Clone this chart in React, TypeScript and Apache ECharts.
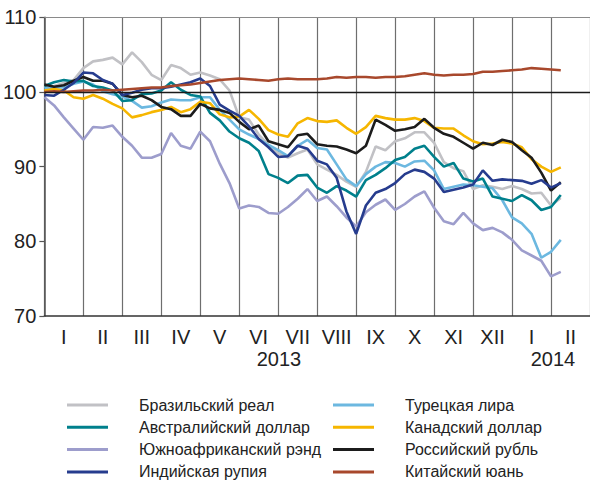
import React, { useEffect, useRef } from "react";
import * as echarts from "echarts";

const FONT = "'Liberation Sans Narrow', 'Liberation Sans', Arial, sans-serif";

// Month labels (Jan 2013 .. Feb 2014)
const monthLabels = ["I", "II", "III", "IV", "V", "VI", "VII", "VIII", "IX", "X", "XI", "XII", "I", "II"];
const yearLabels = ["2013", "2014"];

// Weekly readings (step = quarter month, starting 1 Jan 2013)
const STEP = 0.25;

const brazilReal = [100.7,100.8,101.2,101.6,103.2,104.1,104.3,104.6,103.7,105.3,104.0,102.3,101.6,103.6,103.2,102.3,102.6,102.2,101.7,100.2,96.6,96.3,94.3,92.9,91.8,91.2,91.8,92.3,90.3,89.6,88.9,88.0,87.3,89.3,92.7,92.2,93.4,93.8,94.6,94.6,93.2,90.6,89.8,89.4,87.0,87.5,87.3,87.0,87.4,87.0,86.4,86.5,84.8,85.8];
const audDollar = [100.8,101.3,101.6,101.4,101.5,100.8,100.6,100.2,98.8,98.9,99.7,99.8,100.2,101.3,100.3,99.6,99.4,97.2,96.2,94.7,93.8,93.2,92.1,89.0,88.5,87.8,88.8,88.9,87.2,86.5,87.4,86.8,86.0,88.2,88.9,89.8,90.9,91.3,92.4,92.8,91.3,90.0,90.5,88.4,88.0,88.4,86.0,85.7,85.4,86.2,85.5,84.2,84.6,86.2];
const zarRand = [99.3,98.2,96.6,95.1,93.6,95.3,95.2,95.5,94.0,92.8,91.2,91.2,91.7,94.5,92.8,92.4,94.7,93.4,90.4,87.8,84.4,84.8,84.6,83.8,83.7,84.6,85.7,87.0,85.4,86.0,84.7,83.2,82.0,83.9,84.9,85.6,84.2,85.0,86.0,86.7,84.5,82.7,82.3,83.8,82.4,81.5,81.8,81.2,80.2,78.8,78.1,77.4,75.3,75.9];
const inrRupee = [99.6,99.5,100.3,101.2,102.6,102.5,101.6,101.1,99.6,99.9,100.3,100.5,100.5,100.7,101.0,101.3,101.8,100.8,98.3,97.5,96.8,95.4,93.7,92.6,91.3,91.4,92.8,92.4,90.8,90.3,88.5,84.0,81.0,84.8,86.5,87.0,87.8,89.0,89.6,89.3,88.4,86.6,86.9,87.2,87.6,89.5,88.1,88.3,88.2,88.1,87.7,88.2,87.2,87.8];
const tryLira = [100.5,100.6,100.6,101.1,101.4,101.0,100.1,99.7,99.4,98.8,97.9,98.1,98.6,99.0,98.9,98.9,99.3,99.3,97.6,96.3,95.0,94.3,93.7,92.9,92.2,91.4,92.8,93.6,92.5,92.3,90.3,88.3,87.4,89.0,90.0,90.6,90.5,90.0,90.7,90.8,89.5,87.0,87.3,87.6,87.5,87.3,87.1,85.5,83.2,82.4,81.0,77.8,78.6,80.2];
const cadDollar = [100.2,100.4,100.2,99.3,99.1,99.6,99.1,98.4,97.8,96.6,96.9,97.3,97.6,98.0,97.3,97.7,98.7,98.5,97.0,96.6,96.7,97.6,96.4,94.9,94.3,94.0,95.8,96.5,96.1,96.0,96.2,95.2,94.4,95.3,96.8,96.5,96.3,96.3,96.5,96.1,95.2,95.1,95.1,94.2,93.4,93.0,93.1,93.3,93.1,92.6,91.0,90.0,89.3,89.9];
const rubRuble = [101.0,100.7,100.9,101.5,102.0,101.5,101.5,101.1,99.6,99.3,99.5,98.9,98.0,97.7,96.8,96.8,98.4,97.8,97.6,97.2,96.0,95.0,95.5,93.4,93.0,92.6,94.2,94.4,93.0,92.8,92.7,92.3,91.8,92.8,96.3,95.6,94.8,95.0,95.3,96.4,95.2,94.4,94.0,93.2,92.4,93.2,92.9,93.6,93.3,92.2,91.2,89.2,86.8,87.9];
const cnyYuan = [100.0,100.1,100.0,100.1,100.2,100.2,100.3,100.2,100.3,100.4,100.5,100.6,100.6,100.8,100.9,101.0,101.2,101.4,101.6,101.7,101.8,101.7,101.6,101.5,101.7,101.8,101.7,101.7,101.7,101.8,102.0,101.9,102.0,102.0,101.9,102.0,102.0,102.1,102.3,102.5,102.3,102.2,102.3,102.3,102.4,102.7,102.7,102.8,102.9,103.0,103.2,103.1,103.0,102.9];

const seriesDefs = [
  { name: "Бразильский реал", data: brazilReal, color: "#c1c1c5" },
  { name: "Австралийский доллар", data: audDollar, color: "#00808c" },
  { name: "Южноафриканский рэнд", data: zarRand, color: "#9d9dcc" },
  { name: "Индийская рупия", data: inrRupee, color: "#263c8e" },
  { name: "Турецкая лира", data: tryLira, color: "#6cb8e0" },
  { name: "Канадский доллар", data: cadDollar, color: "#f6b600" },
  { name: "Российский рубль", data: rubRuble, color: "#1c1c1c" },
  { name: "Китайский юань", data: cnyYuan, color: "#a8482c" },
];

const drawOrder = [2, 0, 4, 1, 5, 6, 3, 7];

export default function App() {
  const ref = useRef<HTMLDivElement>(null);
  useEffect(() => {
    if (!ref.current) return;
    const chart = echarts.init(ref.current, undefined, { renderer: "svg" });
    const names = seriesDefs.map((s) => s.name);
    const legendBase = {
      orient: "vertical",
      top: 396,
      itemWidth: 41,
      itemHeight: 3,
      itemGap: 4.3,
      icon: "rect",
      padding: 0,
      selectedMode: false,
      textStyle: { fontSize: 16, lineHeight: 18, color: "#222", padding: [0, 0, 0, 26], fontFamily: FONT },
    };
    const series: any[] = [
      {
        type: "line",
        name: "__ref",
        data: [],
        xAxisIndex: 0,
        silent: true,
        markLine: {
          silent: true,
          symbol: ["none", "none"],
          label: { show: false },
          data: [
            { yAxis: 100, lineStyle: { color: "#1a1a1a", width: 1.3, type: "solid" } },
            { yAxis: 110, lineStyle: { color: "#8a8a8a", width: 1.2, type: "solid" } },
          ],
        },
      },
    ];
    drawOrder.forEach((idx) => {
      const s = seriesDefs[idx];
      series.push({
        type: "line",
        name: s.name,
        xAxisIndex: 0,
        data: s.data.map((v, i) => [i * STEP, v]),
        showSymbol: false,
        symbol: "none",
        color: s.color,
        lineStyle: { color: s.color, width: 2.6 },
        emphasis: { disabled: true },
      });
    });
    chart.setOption({
      animation: false,
      textStyle: { fontFamily: FONT },
      grid: { left: 44, right: -3, top: 17.3, bottom: 166, containLabel: false },
      xAxis: [
        { type: "value", min: 0, max: 14, show: false },
        {
          type: "category",
          data: monthLabels,
          boundaryGap: true,
          position: "bottom",
          axisLine: { show: true, lineStyle: { color: "#333", width: 1.5 } },
          axisTick: { show: false },
          splitLine: { show: true, interval: 0, lineStyle: { color: "#6e6e6e", width: 1.2 } },
          axisLabel: { interval: 0, fontSize: 20, lineHeight: 18, color: "#222", margin: 12, fontFamily: FONT },
        },
      ],
      yAxis: {
        type: "value",
        min: 70,
        max: 110,
        interval: 10,
        axisLine: { show: true, onZero: false, lineStyle: { color: "#555", width: 1.5 } },
        axisTick: { show: true, length: 5, lineStyle: { color: "#555", width: 1.2 } },
        splitLine: { show: false },
        axisLabel: { fontSize: 20, color: "#222", margin: 8, fontFamily: FONT },
      },
      legend: [
        { ...legendBase, left: 67, data: names.slice(0, 4) },
        { ...legendBase, left: 333, data: names.slice(4) },
      ],
      graphic: [
        {
          type: "text",
          x: 279,
          y: 359,
          style: { text: yearLabels[0], fontSize: 20, lineHeight: 18, fill: "#222", align: "center", verticalAlign: "middle", fontFamily: FONT },
        },
        {
          type: "text",
          x: 553,
          y: 359,
          style: { text: yearLabels[1], fontSize: 20, lineHeight: 18, fill: "#222", align: "center", verticalAlign: "middle", fontFamily: FONT },
        },
      ],
      series,
    });
    return () => chart.dispose();
  }, []);
  return (
    <div
      ref={ref}
      style={{ position: "absolute", left: 0, top: 0, width: 590, height: 482 }}
    />
  );
}
